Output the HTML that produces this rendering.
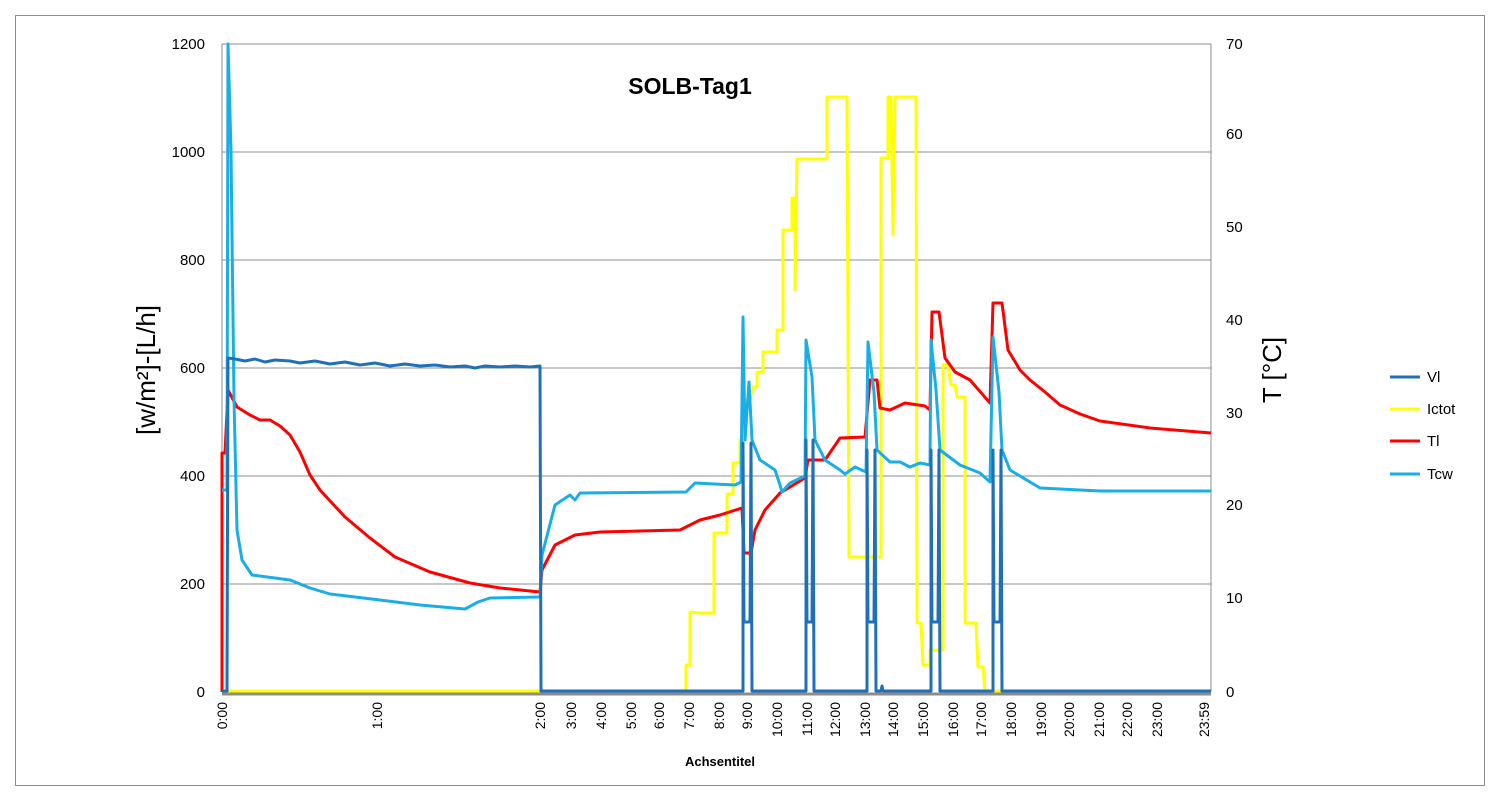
<!DOCTYPE html>
<html><head><meta charset="utf-8"><style>
body{margin:0;background:#fff;}
svg text{font-family:"Liberation Sans",sans-serif;}
</style></head><body>
<svg width="1500" height="787" xmlns="http://www.w3.org/2000/svg">
<rect x="15.5" y="15.5" width="1469" height="770" fill="#fff" stroke="#8c8c8c" stroke-width="1"/>
<g stroke="#8c8c8c" stroke-width="1">
<line x1="222" y1="44" x2="1211" y2="44"/>
<line x1="222" y1="152" x2="1211" y2="152"/>
<line x1="222" y1="260" x2="1211" y2="260"/>
<line x1="222" y1="368" x2="1211" y2="368"/>
<line x1="222" y1="476" x2="1211" y2="476"/>
<line x1="222" y1="584" x2="1211" y2="584"/>
<line x1="222" y1="44" x2="222" y2="692"/>
<line x1="1211" y1="44" x2="1211" y2="692"/>
</g>
<line x1="222" y1="694" x2="1211" y2="694" stroke="#8c8c8c" stroke-width="3"/>
<g font-size="15" fill="#000" text-anchor="end">
<text x="205" y="49">1200</text><text x="205" y="157">1000</text><text x="205" y="265">800</text>
<text x="205" y="373">600</text><text x="205" y="481">400</text><text x="205" y="589">200</text><text x="205" y="697">0</text>
</g>
<g font-size="15" fill="#000">
<text x="1226" y="49">70</text><text x="1226" y="139">60</text><text x="1226" y="232">50</text>
<text x="1226" y="325">40</text><text x="1226" y="418">30</text><text x="1226" y="510">20</text>
<text x="1226" y="603">10</text><text x="1226" y="697">0</text>
</g>
<g font-size="14" fill="#000" text-anchor="end">
<text transform="translate(227,702) rotate(-90)">0:00</text>
<text transform="translate(382,702) rotate(-90)">1:00</text>
<text transform="translate(545,702) rotate(-90)">2:00</text>
<text transform="translate(576,702) rotate(-90)">3:00</text>
<text transform="translate(606,702) rotate(-90)">4:00</text>
<text transform="translate(636,702) rotate(-90)">5:00</text>
<text transform="translate(664,702) rotate(-90)">6:00</text>
<text transform="translate(694,702) rotate(-90)">7:00</text>
<text transform="translate(724,702) rotate(-90)">8:00</text>
<text transform="translate(752,702) rotate(-90)">9:00</text>
<text transform="translate(782,702) rotate(-90)">10:00</text>
<text transform="translate(812,702) rotate(-90)">11:00</text>
<text transform="translate(840,702) rotate(-90)">12:00</text>
<text transform="translate(870,702) rotate(-90)">13:00</text>
<text transform="translate(898,702) rotate(-90)">14:00</text>
<text transform="translate(928,702) rotate(-90)">15:00</text>
<text transform="translate(958,702) rotate(-90)">16:00</text>
<text transform="translate(986,702) rotate(-90)">17:00</text>
<text transform="translate(1016,702) rotate(-90)">18:00</text>
<text transform="translate(1046,702) rotate(-90)">19:00</text>
<text transform="translate(1074,702) rotate(-90)">20:00</text>
<text transform="translate(1104,702) rotate(-90)">21:00</text>
<text transform="translate(1132,702) rotate(-90)">22:00</text>
<text transform="translate(1162,702) rotate(-90)">23:00</text>
<text transform="translate(1209,702) rotate(-90)">23:59</text>
</g>
<text x="720" y="766" font-size="13" font-weight="bold" text-anchor="middle">Achsentitel</text>
<text x="690" y="94" font-size="23" font-weight="bold" text-anchor="middle">SOLB-Tag1</text>
<text transform="translate(155,370) rotate(-90)" font-size="26" text-anchor="middle">[w/m²]-[L/h]</text>
<text transform="translate(1281,370) rotate(-90)" font-size="26" text-anchor="middle">T [°C]</text>
<g fill="none" stroke-width="3" stroke-linejoin="round">
<polyline stroke="#ffff00" points="222,691 686,691 686,665 690,665 690,612 700,613 714,613 714,533 727,533 727,494 733,494 733,463 740,463 740,440 745,440 745,400 750,400 753,387 757,387 757,372 763,372 763,352 777,352 777,330 783,330 783,230 792,230 792,198 795,198 795,290 797,159 827,159 827,97 847,97 849,557 881,557 881,158 888,158 888,97 891,97 893,235 895,97 916,97 917,623 921,623 923,665 930,665 930,650 943,650 943,365 948,365 951,385 955,385 957,397 965,397 965,623 976,623 978,667 983,667 985,691 1211,691"/>
<polyline stroke="#ff0000" points="222,692 222,453 225,453 228,390 237,407 250,415 260,420 270,420 280,426 290,435 300,452 310,475 320,490 332,503 345,517 370,538 395,557 430,572 470,583 500,588 540,592 542,570 555,545 575,535 600,532 680,530 700,520 720,515 742,508 744,553 751,553 755,530 765,510 780,493 790,487 805,478 808,460 825,460 840,438 865,437 870,380 877,380 880,408 890,410 905,403 925,406 930,410 932,312 939,312 945,358 955,372 970,380 990,403 993,303 1002,303 1008,350 1020,370 1030,380 1045,392 1060,405 1080,414 1100,421 1150,428 1211,433"/>
<polyline stroke="#1aaee8" points="222,490 227,490 228,44 231,150 234,400 237,530 242,560 252,575 290,580 310,588 330,594 380,600 420,605 465,609 478,602 490,598 540,597 542,555 555,505 570,495 575,500 580,493 686,492 695,483 735,485 741,482 743,317 745,440 749,382 752,440 760,460 775,470 780,485 782,492 790,483 805,476 806,340 812,377 815,440 825,460 840,470 845,474 855,467 866,472 868,342 874,392 877,450 890,462 900,462 910,467 920,463 930,465 931,340 936,390 940,450 960,465 980,473 990,482 993,337 999,392 1002,450 1010,470 1040,488 1100,491 1211,491"/>
<polyline stroke="#1f70b8" points="222,691 227,691 228,358 235,359 245,361 255,359 265,362 275,360 290,361 300,363 315,361 330,364 345,362 360,365 375,363 390,366 405,364 420,366 435,365 450,367 465,366 475,368 485,366 500,367 515,366 530,367 540,366 541,691 743,691 743,443 744,622 750,622 751,443 752,691 806,691 806,440 807,622 812,622 813,440 814,691 867,691 867,450 868,622 874,622 875,450 876,691 881,691 882,686 883,691 931,691 931,450 932,622 938,622 939,450 940,691 993,691 993,450 994,622 1000,622 1001,450 1002,691 1211,691"/>
</g>
<g stroke-width="3">
<line x1="1390" y1="377" x2="1420" y2="377" stroke="#1f70b8"/>
<line x1="1390" y1="409" x2="1420" y2="409" stroke="#ffff00"/>
<line x1="1390" y1="441" x2="1420" y2="441" stroke="#ff0000"/>
<line x1="1390" y1="474" x2="1420" y2="474" stroke="#1aaee8"/>
</g>
<g font-size="15">
<text x="1427" y="382">Vl</text><text x="1427" y="414">Ictot</text>
<text x="1427" y="446">Tl</text><text x="1427" y="479">Tcw</text>
</g>
</svg>
</body></html>
